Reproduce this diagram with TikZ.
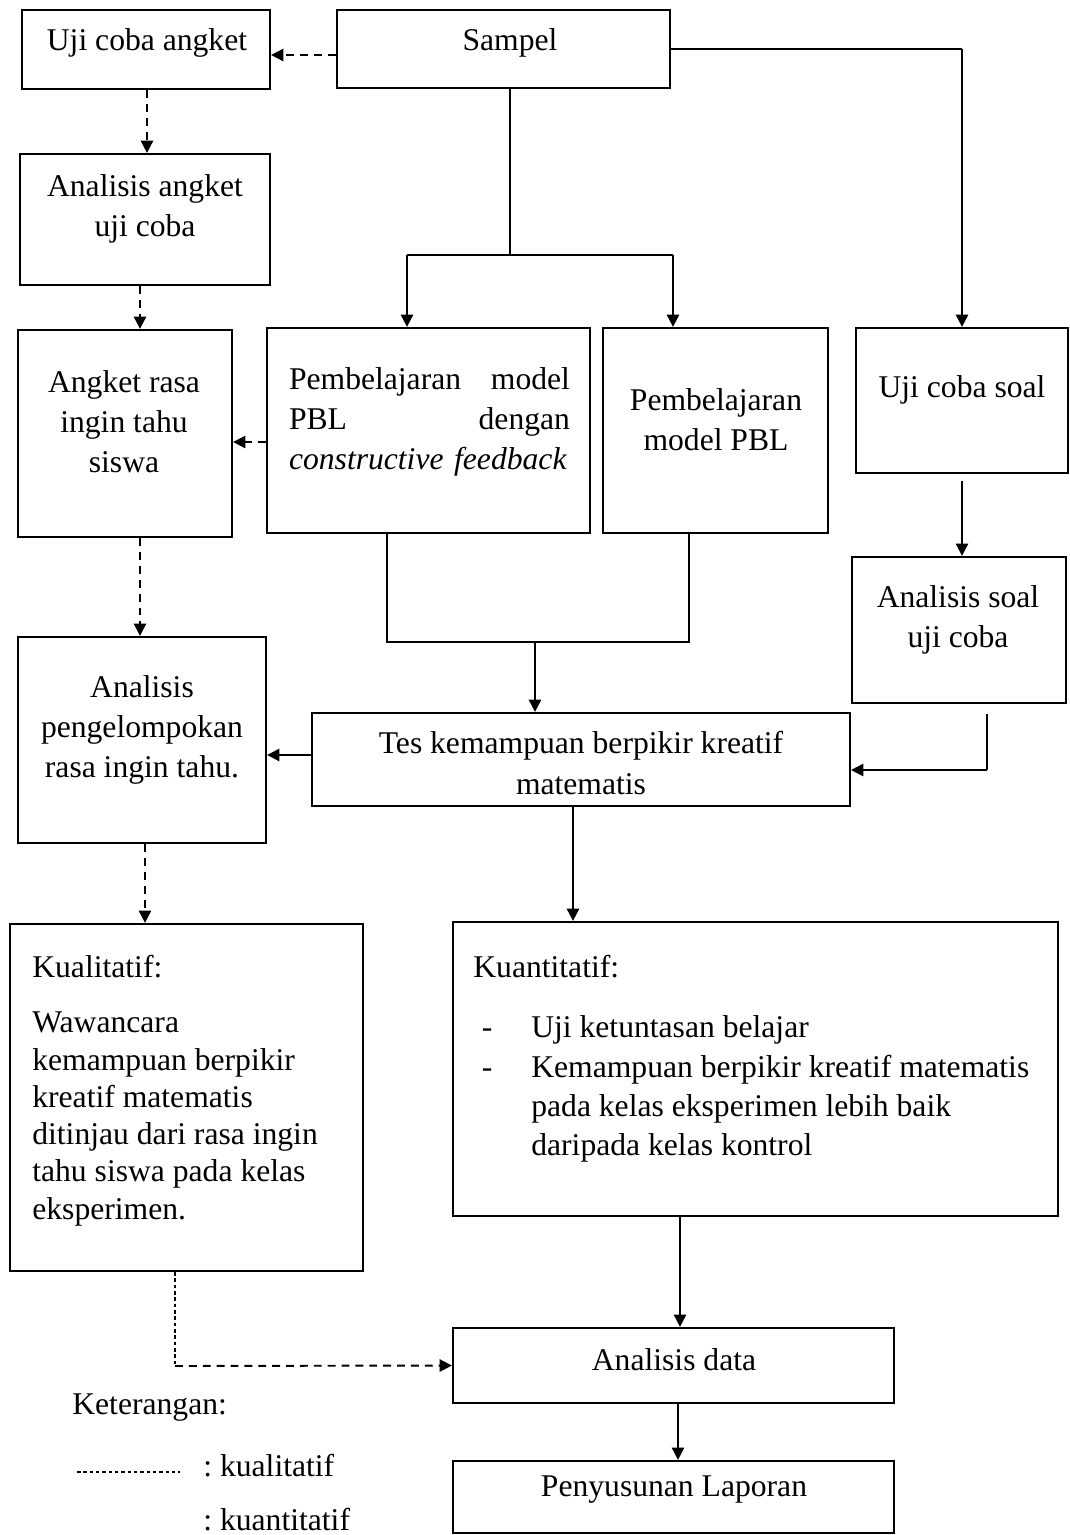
\documentclass[tikz,border=0pt]{standalone}
\usepackage{fontspec}
\setmainfont{Liberation Serif}
\usetikzlibrary{arrows.meta,calc}

\begin{document}
\begin{tikzpicture}[x=0.02cm,y=-0.02cm,font=\fontsize{18}{22.8}\selectfont,every node/.style={align=center,inner sep=0pt},
  box/.style={draw,line width=1.3pt},
  quant/.style={line width=1.1pt,-{Triangle[length=7pt,width=7pt]}},
  qual/.style={line width=1.1pt,dash pattern=on 4.5pt off 3.4pt,-{Triangle[length=7pt,width=7pt]}},
  thinline/.style={line width=0.6pt},
  legendline/.style={line width=0.6pt,dash pattern=on 2pt off 1.6pt}]
  \useasboundingbox (0,0) rectangle (1070,1535);
  % boxes
  \node[box,minimum width=4.96cm,minimum height=1.58cm] (ujiangket) at (146,49.5) {};
  \node[box,minimum width=6.66cm,minimum height=1.56cm] (sampel) at (503.5,49) {};
  \node[box,minimum width=5.00cm,minimum height=2.62cm] (analisisangket) at (145,219.5) {};
  \node[box,minimum width=4.28cm,minimum height=4.14cm] (angketrasa) at (125,433.5) {};
  \node[box,minimum width=6.46cm,minimum height=4.10cm] (pblcf) at (428.5,430.5) {};
  \node[box,minimum width=4.50cm,minimum height=4.10cm] (pbl) at (715.5,430.5) {};
  \node[box,minimum width=4.24cm,minimum height=2.90cm] (ujisoal) at (962,400.5) {};
  \node[box,minimum width=4.28cm,minimum height=2.92cm] (analisissoal) at (959,630) {};
  \node[box,minimum width=4.96cm,minimum height=4.12cm] (pengelompokan) at (142,740) {};
  \node[box,minimum width=10.76cm,minimum height=1.86cm] (tes) at (581,759.5) {};
  \node[box,minimum width=7.06cm,minimum height=6.94cm] (kualitatif) at (186.5,1097.5) {};
  \node[box,minimum width=12.10cm,minimum height=5.88cm] (kuantitatif) at (755.5,1069) {};
  \node[box,minimum width=8.82cm,minimum height=1.50cm] (analisisdata) at (673.5,1365.5) {};
  \node[box,minimum width=8.82cm,minimum height=1.44cm] (laporan) at (673.5,1497) {};
  % texts
  \node (ujiangket-t) at (147,43) {Uji coba angket};
  \node (sampel-t) at (510,43) {Sampel};
  \node (analisisangket-t) at (145,209) {Analisis angket\\uji coba};
  \node (angketrasa-t) at (124,422) {Angket rasa\\ingin tahu\\siswa};
  \node[text width=5.62cm,align=left] (pblcf-t) at (429.5,422) {Pembelajaran\hfill model\\PBL\hfill dengan\\\textit{constructive feedback}};
  \node (pbl-t) at (716,420) {Pembelajaran\\model PBL};
  \node (ujisoal-t) at (962,390) {Uji coba soal};
  \node (analisissoal-t) at (958,620) {Analisis soal\\uji coba};
  \node (pengelompokan-t) at (142,730) {Analisis\\pengelompokan\\rasa ingin tahu.};
  \node (tes-t) at (581,763) {Tes kemampuan berpikir kreatif\\matematis};
  \node[anchor=west,align=left,font=\fontsize{18}{21.2}\selectfont] (kualitatif-t) at (32,1090.5)
    {Kualitatif:\\[0.36cm]Wawancara\\kemampuan berpikir\\kreatif matematis\\ditinjau dari rasa ingin\\tahu siswa pada kelas\\eksperimen.};
  \node[anchor=west,align=left,font=\fontsize{18}{22.4}\selectfont] (kuantitatif-t) at (473,1059)
    {Kuantitatif:\\[0.41cm]\makebox[1.16cm][l]{\hspace{0.17cm}-}Uji ketuntasan belajar\\
     \makebox[1.16cm][l]{\hspace{0.17cm}-}Kemampuan berpikir kreatif matematis\\
     \hspace*{1.16cm}pada kelas eksperimen lebih baik\\\hspace*{1.16cm}daripada kelas kontrol};
  \node (analisisdata-t) at (674,1360) {Analisis data};
  \node (laporan-t) at (674,1490) {Penyusunan Laporan};
  % legend
  \node[anchor=west] (keterangan) at (72,1408) {Keterangan:};
  \node[anchor=west] (kualleg) at (203,1466) {:\ kualitatif};
  \node[anchor=west] (kuanleg) at (203,1520) {:\ kuantitatif};
  \coordinate (legA) at (77,1472);
  \coordinate (legB) at (180,1472);
  \draw[legendline] (legA) -- (legB);
  % dashed connectors
  \draw[qual] (sampel.west |- 0,55) -- (ujiangket.east |- 0,55);
  \draw[qual] (ujiangket.south -| 147,0) -- (analisisangket.north -| 147,0);
  \draw[qual] (analisisangket.south -| 140,0) -- (angketrasa.north -| 140,0);
  \draw[qual] (pblcf.west |- 0,442) -- (angketrasa.east |- 0,442);
  \draw[qual] (angketrasa.south -| 140,0) -- (pengelompokan.north -| 140,0);
  \draw[qual] (pengelompokan.south -| 145,0) -- (kualitatif.north -| 145,0);
  \coordinate (bend) at (175,1366);
  \draw[legendline] (kualitatif.south -| bend) -- (bend);
  \draw[qual] (bend) -- (analisisdata.west);
  % solid connectors
  \coordinate (split) at (510,255);
  \coordinate (splitL) at (407,255);
  \coordinate (splitR) at (673,255);
  \draw[thinline] (sampel.south -| split) -- (split);
  \draw[thinline] (splitL) -- (splitR);
  \draw[quant] (splitL) -- (splitL |- pblcf.north);
  \draw[quant] (splitR) -- (splitR |- pbl.north);
  \draw[thinline] (sampel.east) -- (sampel.east -| ujisoal.north);
  \draw[quant] (sampel.east -| ujisoal.north) -- (ujisoal.north);
  \draw[quant,shorten <=0.14cm] (ujisoal.south) -- (ujisoal.south |- analisissoal.north);
  \coordinate (soalturn) at (987,770);
  \draw[thinline,shorten <=0.2cm] (analisissoal.south -| soalturn) -- (soalturn);
  \draw[quant] (soalturn) -- (tes.east |- soalturn);
  \coordinate (joinL) at (387,642);
  \coordinate (joinR) at (689,642);
  \coordinate (join) at (535,642);
  \draw[thinline] (pblcf.south -| joinL) -- (joinL) -- (joinR) -- (pbl.south -| joinR);
  \draw[quant] (join) -- (join |- tes.north);
  \draw[quant] (tes.south -| 573,0) -- (kuantitatif.north -| 573,0);
  \draw[quant] (tes.west |- 0,755) -- (pengelompokan.east |- 0,755);
  \draw[quant] (kuantitatif.south -| 680,0) -- (analisisdata.north -| 680,0);
  \draw[quant] (analisisdata.south -| 678,0) -- (laporan.north -| 678,0);
\end{tikzpicture}
\end{document}
